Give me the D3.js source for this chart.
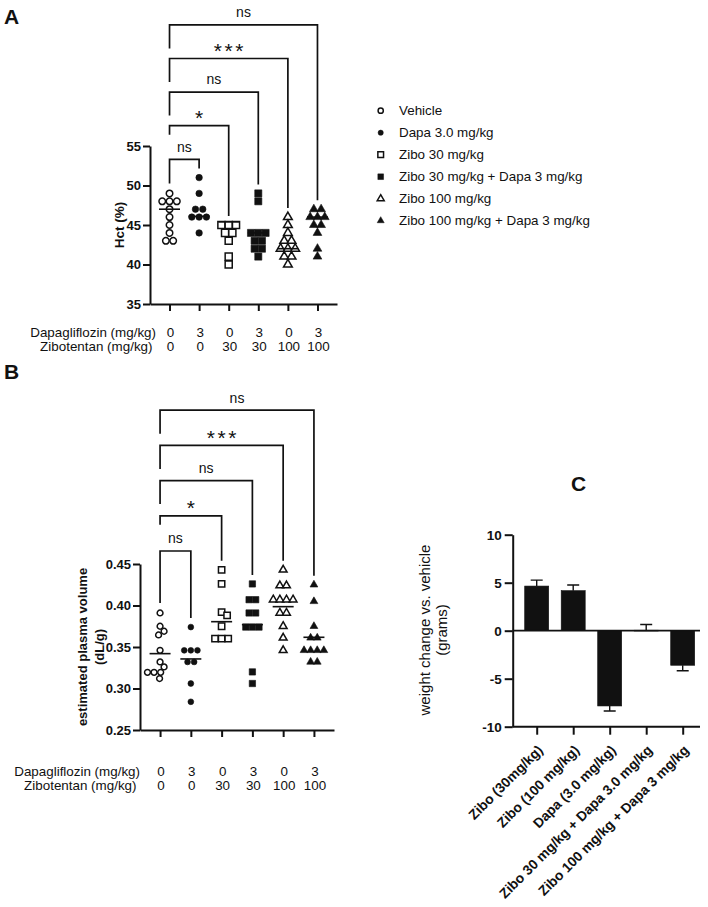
<!DOCTYPE html>
<html><head><meta charset="utf-8">
<script src="https://cdn.jsdelivr.net/npm/d3@7"></script>
<style>
body{margin:0;background:#fff;}
svg{display:block;font-family:"Liberation Sans",Arial,Helvetica,sans-serif;}
</style></head><body>
<svg id="chart" width="708" height="907"></svg>
<script>
// ---------------- DATA ----------------
const groups = ["Vehicle","Dapa 3.0 mg/kg","Zibo 30 mg/kg","Zibo 30 mg/kg + Dapa 3 mg/kg","Zibo 100 mg/kg","Zibo 100 mg/kg + Dapa 3 mg/kg"];
const markerShapes = ["circle","circle","square","square","triangle","triangle"];
const markerFilled = [false,true,false,true,false,true];
const dapaDose = ["0","3","0","3","0","3"];
const ziboDose = ["0","0","30","30","100","100"];

// Panel A: Hct (%)
const hctVehicle   = [49,48,48,48,47,46,45,44,43,43];
const hctDapa      = [51,49,47,47,46,46,46,44];
const hctZibo30    = [45,45,45,44,44,43,41,40];
const hctZibo30D   = [49,48,44,44,44,43,43,42,42,41];
const hctZibo100   = [46,45,44,43,43,42,42,42,41,41,40];
const hctZibo100D  = [47,47,46,46,46,45,45,44,42,41];
const hctMean      = [47,46.1,45.4,44,42,46];
const hctTicks     = [35,40,45,50,55];
const hctSig       = ["ns","*","ns","***","ns"];

// Panel B: estimated plasma volume (dL/g)
const pvVehicle  = [0.391,0.375,0.369,0.3645,0.346,0.332,0.326,0.3195,0.3195,0.3195,0.312];
const pvDapa     = [0.374,0.346,0.346,0.346,0.332,0.332,0.306,0.284];
const pvZibo30   = [0.443,0.426,0.392,0.388,0.375,0.360,0.360,0.360];
const pvZibo30D  = [0.426,0.407,0.407,0.391,0.391,0.374,0.374,0.374,0.320,0.306];
const pvZibo100  = [0.443,0.424,0.424,0.407,0.407,0.407,0.407,0.391,0.391,0.375,0.361,0.346];
const pvZibo100D = [0.425,0.405,0.375,0.361,0.361,0.346,0.346,0.346,0.346,0.332,0.332];
const pvMean     = [0.342,0.3356,0.3805,0.377,0.3986,0.3617];
const pvTicks    = [0.25,0.30,0.35,0.40,0.45];
const pvSig      = ["ns","*","ns","***","ns"];

const bracketGroups = [1,2,3,4,5];

// Panel C: weight change vs. vehicle (grams)
const weightCats = ["Zibo (30mg/kg)","Zibo (100 mg/kg)","Dapa (3.0 mg/kg)","Zibo 30 mg/kg + Dapa 3.0 mg/kg","Zibo 100 mg/kg + Dapa 3 mg/kg"];
const weightMean = [4.65,4.17,-7.84,0.05,-3.6];
const weightSEM  = [0.62,0.59,0.52,0.6,0.57];
const weightTicks = [-10,-5,0,5,10];

const hctData = [hctVehicle,hctDapa,hctZibo30,hctZibo30D,hctZibo100,hctZibo100D];
const pvData  = [pvVehicle,pvDapa,pvZibo30,pvZibo30D,pvZibo100,pvZibo100D];

// ---------------- DRAWING ----------------
const svg = d3.select("#chart");
const INK = "#111";

function symbolPath(shape, scale){
  const t = shape==="circle"?d3.symbolCircle: shape==="square"?d3.symbolSquare: d3.symbolTriangle;
  const size = shape==="circle"? Math.PI*2.9*2.9 : shape==="square"? 40 : (Math.sqrt(3)/4)*7.8*7.8;
  return d3.symbol().type(t).size(size*scale*scale)();
}

function swarm(values, yScale, s){
  const rows = Array.from(d3.rollup(values, v=>v.length, v=>v), ([v,n])=>({v,n})).sort((a,b)=>b.v-a.v);
  const placed = [];
  rows.forEach(r=>{
    const py = yScale(r.v);
    const base = d3.range(r.n).map(k=>(k-(r.n-1)/2)*s);
    let shift = 0;
    for(let t=0;t<60;t++){
      const c = t===0?0:(t%2?1:-1)*Math.ceil(t/2)*0.5;
      const ok = base.every(bx=>placed.every(p=>Math.hypot(p.dx-(bx+c),p.py-py)>=s*0.95));
      if(ok){shift=c;break;}
    }
    base.forEach(bx=>placed.push({dx:bx+shift,py}));
  });
  return placed;
}

function styleAxis(sel, fs){
  sel.selectAll(".domain").attr("stroke",INK).attr("stroke-width",2);
  sel.selectAll(".tick line").attr("stroke",INK).attr("stroke-width",2);
  sel.selectAll(".tick text").attr("fill",INK).attr("font-weight","bold").attr("font-size",fs)
     .attr("font-family","'Liberation Sans',Arial,sans-serif");
}

function drawScatter(o){
  const g = svg.append("g");
  const x = d3.scalePoint().domain(groups).range([o.x0,o.x1]).padding(o.pad);
  const y = d3.scaleLinear().domain(o.yDomain).range([o.yBottom,o.yTop]);

  const ya = g.append("g").attr("transform",`translate(${o.x0},0)`)
    .call(d3.axisLeft(y).tickValues(o.ticks).tickFormat(o.fmt).tickSize(7).tickSizeOuter(0).tickPadding(2));
  styleAxis(ya, 13);
  const xa = g.append("g").attr("transform",`translate(0,${o.yBottom})`)
    .call(d3.axisBottom(x).tickSize(7).tickSizeOuter(0).tickFormat(""));
  styleAxis(xa, 13);

  // y label
  o.ylabel.forEach((t,i)=>{
    g.append("text").attr("transform",`translate(${o.ylabelX[i]},${o.ylabelY}) rotate(-90)`)
      .attr("text-anchor","middle").attr("font-weight","bold").attr("font-size",o.ylabelSize).attr("fill",INK).text(t);
  });

  // points
  o.data.forEach((vals,i)=>{
    const cx = x(groups[i]);
    const pts = swarm(vals, y, o.spread);
    const path = symbolPath(markerShapes[i],o.mscale);
    g.append("g").selectAll("path").data(pts).join("path")
      .attr("d",path)
      .attr("transform",d=>`translate(${cx+d.dx},${d.py})`)
      .attr("fill",markerFilled[i]?INK:"#fff")
      .attr("stroke",INK).attr("stroke-width",markerFilled[i]?0.6:1.5);
    g.append("line").attr("x1",cx-10.5).attr("x2",cx+10.5)
      .attr("y1",y(o.means[i])).attr("y2",y(o.means[i]))
      .attr("stroke",INK).attr("stroke-width",1.6);
  });

  // brackets
  const xl = x(groups[0]);
  bracketGroups.forEach((j,k)=>{
    const ly = o.bracketLow - k*o.bracketGap;
    const xr = x(groups[j]);
    const rEnd = y(d3.max(o.data[j])) - 9;
    const lEnd = k===0 ? y(d3.max(o.data[0])) - 10 : (k===1 ? ly+9 : ly+23.5);
    g.append("path").attr("d",`M${xl},${lEnd}V${ly}H${xr}V${rEnd}`)
      .attr("fill","none").attr("stroke",INK).attr("stroke-width",1.7);
    const lab = o.sig[k];
    const star = lab.indexOf("*")>=0;
    g.append("text").attr("x",(xl+xr)/2 + (star?1.3:0)).attr("y", star? ly-0.5 : ly-7.7)
      .attr("text-anchor","middle").attr("fill",INK)
      .attr("font-size",star?21:14).attr("letter-spacing",star?2.6:0)
      .text(lab);
  });

  // dose table
  const rows = [["Dapagliflozin (mg/kg)",dapaDose],["Zibotentan (mg/kg)",ziboDose]];
  rows.forEach((r,ri)=>{
    g.append("text").attr("x",o.tableLabelX[ri]).attr("y",o.tableY[ri]).attr("text-anchor","end")
      .attr("font-size",13.4).attr("fill",INK).text(r[0]);
    g.append("g").selectAll("text").data(r[1]).join("text")
      .attr("x",(d,i)=>x(groups[i])+1).attr("y",o.tableY[ri]).attr("text-anchor","middle")
      .attr("font-size",13.4).attr("fill",INK).text(d=>d);
  });
}

drawScatter({data:hctData, means:hctMean, sig:hctSig, x0:150, x1:337, pad:0.66,
  yDomain:[35,55], yBottom:304, yTop:146, ticks:hctTicks, fmt:d3.format("d"),
  bracketLow:159.3, bracketGap:33.6, tableY:[337,350.5], tableLabelX:[156,152.5],
  ylabel:["Hct (%)"], ylabelX:[123.5], ylabelY:225, ylabelSize:13.5, mscale:1.12, spread:7.3});

drawScatter({data:pvData, means:pvMean, sig:pvSig, x0:140, x1:334, pad:0.652,
  yDomain:[0.25,0.45], yBottom:730, yTop:564, ticks:pvTicks, fmt:d3.format(".2f"),
  bracketLow:551, bracketGap:35.2, tableY:[776,789.5], tableLabelX:[140,136.5],
  ylabel:["estimated plasma volume","(dL/g)"], ylabelX:[87,104], ylabelY:647, ylabelSize:13, mscale:1.0, spread:6.6});

// legend
const lg = svg.append("g");
groups.forEach((name,i)=>{
  const ry = 110.7 + i*22;
  lg.append("path").attr("d",symbolPath(markerShapes[i],0.9))
    .attr("transform",`translate(380.7,${ry})`)
    .attr("fill",markerFilled[i]?INK:"#fff").attr("stroke",INK).attr("stroke-width",markerFilled[i]?0.5:1.5);
  lg.append("text").attr("x",399).attr("y",ry+4.7).attr("font-size",13.4).attr("fill",INK).text(name);
});

// Panel C
(function(){
  const g = svg.append("g");
  const axX = 512.7, axRight = 700;
  const x = d3.scalePoint().domain(weightCats).range([536.7,682.7]);
  const y = d3.scaleLinear().domain([-10,10]).range([726.7,534.7]);
  const ya = g.append("g").attr("transform",`translate(${axX},0)`)
    .call(d3.axisLeft(y).tickValues(weightTicks).tickFormat(d3.format("d")).tickSize(8).tickSizeOuter(0).tickPadding(3));
  styleAxis(ya, 13.5);
  ya.selectAll(".tick text").text(d=>d<0? "-"+Math.abs(d) : d);
  const xa = g.append("g").attr("transform",`translate(0,${y(-10)})`)
    .call(d3.axisBottom(x).tickSize(8).tickSizeOuter(0).tickFormat(""));
  styleAxis(xa, 13);
  xa.select(".domain").remove();
  g.append("line").attr("x1",axX).attr("x2",axRight).attr("y1",y(-10)).attr("y2",y(-10))
    .attr("stroke",INK).attr("stroke-width",2);

  // bars
  weightCats.forEach((c,i)=>{
    const cx = x(c), v = weightMean[i], s = weightSEM[i];
    const y0 = y(0), yv = y(v);
    g.append("rect").attr("x",cx-12).attr("width",24)
      .attr("y",Math.min(y0,yv)).attr("height",Math.max(Math.abs(yv-y0),0.8))
      .attr("fill",INK).attr("stroke",INK).attr("stroke-width",0.6);
    const ye = y(v + (v>=0?s:-s));
    g.append("path").attr("d",`M${cx},${yv}V${ye}M${cx-6},${ye}H${cx+6}`)
      .attr("fill","none").attr("stroke",INK).attr("stroke-width",1.4);
  });
  g.append("line").attr("x1",axX).attr("x2",axRight).attr("y1",y(0)).attr("y2",y(0))
    .attr("stroke",INK).attr("stroke-width",1.7);

  // x labels
  weightCats.forEach(c=>{
    g.append("text").attr("transform",`translate(${x(c)+7},${751}) rotate(-45)`)
      .attr("text-anchor","end").attr("font-weight","bold").attr("font-size",13.8).attr("fill",INK).text(c);
  });
  // y label
  g.append("text").attr("transform","translate(430,630) rotate(-90)").attr("text-anchor","middle")
    .attr("font-size",15).attr("fill",INK).text("weight change vs. vehicle");
  g.append("text").attr("transform","translate(447,630) rotate(-90)").attr("text-anchor","middle")
    .attr("font-size",15).attr("fill",INK).text("(grams)");
})();

// panel letters
[["A",4,24],["B",4,379],["C",571,491]].forEach(([t,px,py])=>{
  svg.append("text").attr("x",px).attr("y",py).attr("font-weight","bold").attr("font-size",21).attr("fill",INK).text(t);
});
</script>
</body></html>
